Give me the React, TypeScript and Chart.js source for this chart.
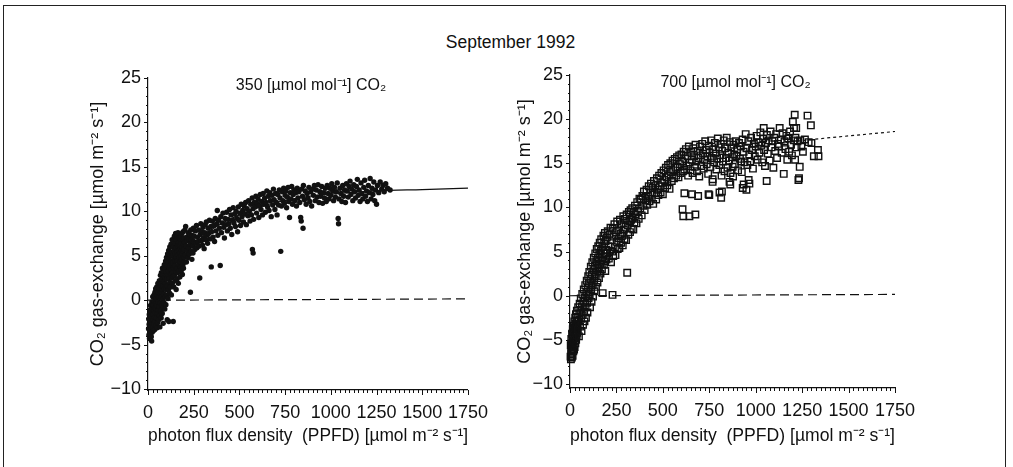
import React, { useEffect, useRef } from "react";
import { Chart, registerables } from "chart.js";

Chart.register(...registerables);

// ---------- data ----------
const xTicks = [0, 250, 500, 750, 1000, 1250, 1500, 1750];
const yTicks = [-10, -5, 0, 5, 10, 15, 20, 25];

const mainTitle = "September 1992";
const panelTitles = ["350 [\u00b5mol mol\u207b\u00b9] CO\u2082", "700 [\u00b5mol mol\u207b\u00b9] CO\u2082"];
const yAxisTitle = "CO\u2082 gas-exchange [\u00b5mol m\u207b\u00b2 s\u207b\u00b9]";
const xAxisTitle = "photon flux density  (PPFD) [\u00b5mol m\u207b\u00b2 s\u207b\u00b9]";

// observations at 350 µmol mol-1 CO2: [PPFD, gas exchange]
const obs350: [number, number][] = [
  [3,-3.2],[4,-2.1],[5,-3.9],[6,-2.7],[7,-1.6],[8,-4.3],[9,-3.4],[10,-2.3],[11,-1.1],[12,-3.8],[13,-2.9],[14,-0.6],
  [15,-1.8],[16,-3.3],[17,-2.5],[18,-4.1],[19,-1.3],[20,-4.6],[20,-3],[21,-0.2],[22,-2],[23,-3.6],[24,-1],[25,-2.6],
  [26,0.4],[27,-1.6],[28,-3.1],[29,-0.5],[30,-2.2],
  [31,-3.4],[32,-1.1],[33,0.6],[34,-2.7],[35,-0.1],[36,-1.9],[37,-3.3],[38,0.9],[39,-0.9],[40,-2.4],[41,-1.4],
  [42,1.3],[43,-0.4],[44,-2.9],[45,-1],[46,0.2],[47,-2],[48,1.5],[49,-0.6],[50,-3.1],[51,0.6],[52,-1.5],[53,-2.5],
  [54,1.9],[55,-0.2],[56,0.9],[57,-1.1],[58,-2.2],[59,0.4],[60,1.4],
  [61,-0.7],[62,2.2],[63,-1.7],[64,0.8],[65,-3],[66,1.7],[67,-0.3],[68,2.8],[69,-1.2],[70,0.3],[71,1.9],[72,-2],
  [73,3.1],[74,0.9],[75,-0.6],[76,2.4],[77,1.2],[78,-1.5],[79,3.6],[80,0.1],[81,1.6],[82,2.9],[83,-2.6],[84,-0.8],
  [85,3.3],[86,0.7],[87,2.1],[88,-0.3],[89,4],[90,1.3],[91,2.6],[92,-1],[93,3.5],[94,0.4],[95,1.9],[96,4.4],
  [97,2.9],[98,-0.5],[99,1.2],[100,3.2],
  [101,4.8],[102,0.6],[103,2.4],[104,3.9],[105,-2.2],[106,1.6],[107,5.2],[108,2.9],[109,0.2],[110,4.3],[111,3.3],
  [112,1.2],[113,5.6],[114,-2.4],[115,2.4],[116,4.7],[117,3.6],[118,0.8],[119,6],[120,2],[121,3.9],[122,5.1],
  [123,1.5],[124,2.9],[125,4.4],[126,6.3],[127,3.4],[128,0.6],[129,5.4],[130,2.5],[131,4],[132,6.8],[133,1.9],
  [134,3.1],[135,5],[136,4.2],[137,2.7],[138,-2.4],[139,6],[140,3.6],[141,1.5],[142,5.6],[143,4.6],[144,7.2],
  [145,2.8],[146,3.9],[147,6.4],[148,5.2],[149,2.2],[150,4.4],
  [151,7.5],[152,3.2],[153,5.9],[154,1.2],[155,4.9],[156,6.8],[157,3.6],[158,5.4],[159,2.4],[160,7.4],[161,4.4],
  [162,6.1],[163,3.1],[164,7.6],[165,5.1],[166,1.9],[167,6.5],[168,4],[169,5.6],[170,3.3],[171,7],[172,4.8],
  [173,6.1],[174,2.6],[175,5.3],[176,6.9],[177,4.3],[178,3.7],[179,5.8],[180,7.2],[181,4.9],[182,6.4],[183,3.4],
  [184,5.6],[185,7.5],[186,4.6],[187,6],[188,2.9],[189,5.2],[190,6.8],[191,4],[192,7.7],[193,5.5],[194,3.6],
  [195,6.3],[196,4.8],[197,7],[198,5.7],[199,4.3],[200,6.5],
  [202,7.9],[204,5.1],[206,8.3],[208,6.1],[210,4.3],[212,7.1],[214,5.6],[216,6.7],[218,4.8],[220,7.6],[222,5.9],
  [224,6.9],[226,5.2],[228,7.4],[230,6.3],[232,0.9],[234,7.9],[236,5.5],[238,6.8],[240,4.6],[242,7.3],[244,6.1],
  [246,5.3],[248,8.1],[250,6.6],[253,7.2],[256,5.7],[259,7.8],[262,6.4],[265,8.4],[268,5.9],[271,7.1],[274,6.6],
  [277,7.9],[280,6.1],[283,2.5],[286,7.4],[289,8.6],[292,6.7],[295,7.7],[298,6.2],[301,8.2],[304,7],[307,5.8],
  [310,7.6],
  [313,8.5],[316,6.8],[319,8.8],[322,7.3],[326,6.4],[329,8.1],[332,7.5],[336,9],[340,6.9],[344,8.3],[346,3.75],
  [348,7.7],[352,8.9],[356,7.1],[360,8.4],[364,6.6],[368,9.2],[372,7.8],[376,8.6],[379,10.1],[382,7.3],[386,9],
  [390,8.1],[395,3.9],[398,9.4],[402,7.6],[406,8.7],[410,9.8],[414,8.2],[418,7],[422,9.2],[426,8.5],[430,9.9],
  [434,7.8],[438,9.1],[442,8.6],[446,10.2],[450,8.1],[454,9.6],[458,7.4],[462,9],[466,10.4],[470,8.7],[474,9.7],
  [478,8.3],[482,10],[486,9.2],[490,7.7],[494,10.5],[498,9],
  [502,9.8],[506,8.4],[510,10.8],[514,9.4],[518,10.1],[522,8.8],[526,10.6],[530,9.7],[534,11],[538,8.5],[542,10.3],
  [546,9.5],[550,11.2],[554,10],[558,8.9],[562,10.8],[566,9.6],[571,5.7],[575,5.3],[570,11.5],[574,10.3],[578,9.1],
  [582,11],[586,10.5],[590,11.7],[594,9.8],[598,10.9],[602,11.4],[606,9.3],[610,10.6],[614,11.9],[618,10.2],
  [622,11.1],[626,9.6],[630,12],[634,10.8],[638,11.5],[642,9.9],[646,11],[650,12.3],[654,10.5],[658,11.7],
  [662,10.1],[666,12.1],[670,11.2],[674,9.4],[678,11.8],[682,10.7],[686,12.5],[690,11.3],[694,10.2],[698,12],
  [702,11],[706,9.6],[710,11.9],[714,10.7],[718,12.4],[722,11.5],[726,5.5],[730,10.6],[734,12.2],[738,11.2],
  [742,12.6],[746,10.9],[750,11.8],[754,12.3],[758,10.4],[762,11.6],[766,12.7],[770,11.1],[774,9.3],[778,12.1],
  [782,11.4],[786,12.8],[790,10.8],[794,11.9],[798,12.4],
  [803,11.2],[808,12.1],[812,10.6],[816,12.6],[820,11.5],[825,12.2],[830,11],[835,9.3],[838,8.9],[840,12.5],
  [845,11.7],[848,8.1],[850,12.9],[855,11.3],[860,12.3],[865,10.8],[870,12],[875,11.5],[880,12.7],[885,11.1],
  [890,12.2],[895,10.6],[900,12.5],[905,11.8],[910,12.9],[915,11.2],[920,12.4],[925,11.6],[930,13],[935,11],
  [940,12.2],[945,11.7],[950,12.8],[955,10.9],[960,12.1],[965,11.5],[970,12.6],[975,11.1],[980,12.9],[985,12],
  [990,11.4],[995,12.6],[1000,11.8],[1005,13.1],[1010,12.3],[1015,11.2],[1020,12.7],[1025,11.6],[1030,12.2],
  [1035,13.2],[1040,9.2],[1042,8.6],[1045,11.4],[1050,12.6],[1055,12],[1060,11.1],[1065,12.9],[1070,11.7],
  [1075,12.4],[1080,11],[1085,13.1],[1090,12.3],[1095,11.6],[1100,12.8],
  [1105,13.4],[1110,11.9],[1115,12.5],[1120,11.2],[1125,13],[1130,12.2],[1135,11.5],[1140,12.8],[1145,13.6],
  [1150,11.8],[1155,12.4],[1160,11.1],[1165,13.2],[1170,12],[1175,11.4],[1180,12.7],[1185,13.5],[1190,11.7],
  [1195,12.3],[1200,11.1],[1205,12.9],[1210,12.1],[1215,13.7],[1220,11.4],[1225,12.6],[1230,11.9],[1235,13.3],
  [1240,11.2],[1245,12.4],[1250,10.8],[1255,12.9],[1262,12.1],[1270,13.3],[1278,12.5],[1285,12.9],[1292,12.2],
  [1300,13.1],[1310,12.6],[1324,12.4]
];

// observations at 700 µmol mol-1 CO2: [PPFD, gas exchange]
const obs700: [number, number][] = [
  [3,-6.9],[4,-5.6],[5,-7.2],[6,-6.2],[7,-4.9],[8,-6.6],[9,-5.4],[10,-7],[11,-4.3],[12,-6],[13,-5.1],[14,-6.8],
  [15,-3.8],[16,-5.7],[17,-4.6],[18,-6.3],[19,-3.4],[20,-5.2],[21,-4.1],[22,-6.1],[23,-2.9],[24,-4.8],[25,-5.8],
  [26,-3.6],[27,-4.4],[28,-2.5],[29,-5.4],[30,-3.2],[31,-4.1],[32,-2.1],[33,-5],[34,-3.7],[35,-2.8],[36,-4.5],
  [37,-1.7],[38,-3.3],[39,-4.2],[40,-2.4],
  [42,-3.8],[44,-1.3],[46,-2.9],[48,-4.6],[50,-2],[52,-0.9],[54,-3.5],[56,-1.6],[58,-0.3],[60,-2.6],[62,-4],
  [64,-1.2],[66,0.2],[68,-2.2],[70,-3.3],[72,-0.7],[74,0.7],[76,-1.8],[78,-2.9],[80,-0.2],[82,1.2],[84,-1.3],
  [86,-2.5],[88,0.4],[90,1.7],[92,-0.8],[94,-1.9],[96,0.9],[98,2.2],[100,-0.3],
  [102,1.4],[104,2.7],[106,0.2],[108,-1.3],[110,1.9],[112,3.3],[114,0.7],[116,-0.7],[118,2.4],[120,3.8],[122,1.2],
  [124,-0.1],[126,2.9],[128,4.3],[130,1.7],[132,0.5],[134,3.4],[136,4.8],[138,2.2],[140,1],[142,3.9],[144,5.3],
  [146,2.7],[148,1.5],[150,4.3],[152,5.6],[154,3.1],[156,2],[158,4.7],[160,6],[162,3.6],[164,2.5],[166,5.1],
  [168,6.4],[170,4],[172,3],[174,5.5],[176,0.3],[178,4.4],[180,6.8],[182,3.5],[184,5.9],[186,4.8],[188,7.1],
  [189,3.9],[190,2.8],[192,6.2],[194,5.2],[196,4.1],[198,6.6],[200,4.8],
  [203,7.3],[206,5.6],[209,4.2],[212,6.9],[215,5.1],[218,7.7],[221,3.8],[224,6.3],[227,5],[229,0.1],[230,7.6],
  [233,4.5],[236,6.7],[239,8.1],[242,5.5],[245,4.6],[248,7.2],[251,6.1],[254,8.4],[257,5.3],[260,7.4],[263,6.5],
  [266,5.4],[269,8.6],[272,7],[275,6],[278,8.1],[281,6.8],[284,5.7],[287,9],[290,7.5],[293,6.4],[296,8.7],
  [299,7.8],[302,6.3],[305,9.2],[308,2.6],[311,8],[314,6.9],[317,9.5],[320,8.4],[323,7.2],[326,9.7],[329,8.6],
  [332,7.6],[335,9.9],[338,8.8],[341,7.5],[344,9.5],[347,8.3],[350,10.2],
  [354,9.2],[358,8.2],[362,10.6],[366,9.6],[370,8.7],[374,11],[378,9.9],[382,10.9],[386,9.1],[390,11.3],[394,10.2],
  [398,11.8],[402,9.7],[406,10.8],[409,11.2],[412,12],[416,10.3],[420,11.3],[424,12.4],[428,10.7],[432,11.7],
  [436,12.7],[440,11],[444,12.2],[448,10.4],[452,13],[456,11.6],[460,12.5],[464,10.9],[468,13.3],[472,12],
  [476,11.4],[480,13.6],[484,12.4],[488,11.7],[492,13.9],[496,12.8],[500,11.5],[504,14.2],[508,13.1],[512,12.2],
  [516,14.5],[520,13.4],[524,12.5],[528,14.8],[532,13.6],[536,12.1],[540,15],[544,14],[548,13],[552,15.3],
  [556,14.2],[560,13.3],[564,15.5],[568,14.5],[572,13.6],[576,15.7],[580,14.6],[584,13.4],[588,15.9],[592,14.9],
  [596,13.9],[600,16],
  [604,15.2],[608,14.1],[612,16.3],[616,14.3],[620,15.5],[624,16.6],[628,14.7],[632,15.8],[636,13.6],[640,16.9],
  [644,15.1],[648,14.2],[652,16.3],[656,15.4],[660,13.9],[664,16.7],[668,15.8],[672,14.6],[676,17.1],[680,15.2],
  [684,14.1],[688,16.4],[692,15.6],[696,13.5],[700,16.9],[704,15.9],[708,14.7],[712,17.2],[716,16.1],[720,14.4],
  [724,15.4],[728,17.5],[732,16.5],[736,14.9],[740,15.8],[744,13.8],[748,17],[752,16.2],[756,14.6],[760,17.6],
  [764,15.6],[768,13.2],[772,16.6],[776,15.1],[780,17.3],[784,16.1],[788,14.3],[792,15.5],[796,17.8],[800,16.8],
  [804,14.8],[808,15.9],[812,17.2],[816,13.6],[820,16.4],[824,15.2],[828,17.6],[832,14.1],[836,16.7],[840,15.6],
  [844,17.9],[848,14.5],[852,16.2],[856,15.3],[860,17.4],[864,13.9],[868,16.8],[872,15.7],[876,14.6],[880,17.1],
  [884,16],[888,14.9],[892,17.5],[896,15.8],[900,16.6],[905,14.2],[910,17.3],[915,15.5],[920,16.9],[922,15.2],
  [925,14],[930,17.7],[935,16.3],[940,15.1],[946,18.3],[950,16.7],[955,14.8],[960,17.5],[965,16],[970,15.2],
  [975,17.9],[980,16.5],[985,14.4],[990,17.2],[995,15.8],[1000,16.9],
  [616,11.6],[606,9.8],[610,9],[643,9],[657,11.5],[675,9.2],[690,11.3],[746,11.5],[750,11.4],[768,12.9],
  [805,11.7],[814,11.1],[818,11.8],[859,12.9],[863,12.6],[930,12.2],[935,12.6],[950,12],[962,13.1],[966,12.7],
  [878,13.5],
  [1005,18.1],[1010,15.4],[1015,17.4],[1020,16.2],[1025,18.5],[1030,17],[1035,15.1],[1040,17.8],[1043,19],
  [1045,16.5],[1050,14.7],[1055,17.3],[1059,13],[1060,18.2],[1065,16.1],[1070,17.6],[1075,15.3],[1080,18.6],
  [1085,16.8],[1090,17.5],[1095,14.5],[1100,17.9],[1105,16.4],[1110,18.3],[1115,15.6],[1120,17.2],[1125,16.9],
  [1129,19],[1135,17.7],[1140,16.2],[1145,18.4],[1151,13.8],[1155,17.5],[1160,16.6],[1165,18.1],[1170,15.4],
  [1175,17.8],[1180,16.3],[1185,18.6],[1190,17.1],[1195,15.9],[1200,19.7],[1205,17.6],[1206,19],[1210,20.5],
  [1212,15.4],[1214,17.9],[1218,19],[1220,16.8],[1225,17.5],[1230,13.1],[1233,13.3],[1237,14.6],[1240,17.6],
  [1246,16.9],[1254,16.3],[1265,17.7],[1279,20.4],[1285,17.4],[1297,19.3],[1300,17.3],[1313,15.8],[1335,16.5],
  [1338,15.8]
];

// fitted light-response curves
const fitX350 = [0, 50, 100, 150, 200, 300, 400, 500, 600, 700, 800, 900, 1000, 1100, 1250, 1500, 1750];
const fitY350 = [-3, -0.5, 1.5, 3.4, 5, 7.2, 8.6, 9.6, 10.4, 11, 11.4, 11.75, 11.95, 12.1, 12.3, 12.45, 12.6];
const fitX700 = [1000, 1100, 1220, 1400, 1600, 1750];
const fitY700 = [16.9, 17.2, 17.5, 17.9, 18.3, 18.6];
// compensation (zero) line
const zeroX = [0, 1750];
const zeroY = [0, 0.15];

const FONT = "'Liberation Sans', Arial, Helvetica, sans-serif";

type PanelProps = {
  left: number;
  width: number;
  areaLeft: number;
  areaRight: number;
  areaTop: number;
  areaBottom: number;
  yTitleX: number;
  yMin: number;
  title: string;
  filled: boolean;
  obs: [number, number][];
  fitX: number[];
  fitY: number[];
  fitDash: number[];
};

function Panel(p: PanelProps) {
  const ref = useRef<HTMLCanvasElement | null>(null);
  useEffect(() => {
    if (!ref.current) return;
    const H = 467;
    const minorPlugin = {
      id: "minorTicks",
      afterDraw(chart: any) {
        const ctx = chart.ctx;
        const xs = chart.scales.x;
        const ys = chart.scales.y;
        const area = chart.chartArea;
        ctx.save();
        ctx.strokeStyle = "#111";
        ctx.lineWidth = 1;
        for (let v = 0; v <= 1750; v += 25) {
          const px = Math.round(xs.getPixelForValue(v)) + 0.5;
          const len = v % 250 === 0 ? 5 : 3;
          ctx.beginPath();
          ctx.moveTo(px, area.bottom);
          ctx.lineTo(px, area.bottom + len);
          ctx.stroke();
        }
        for (let v = -10; v <= 25; v += 1) {
          const py = Math.round(ys.getPixelForValue(v)) + 0.5;
          const len = v % 5 === 0 ? 4 : 2;
          ctx.beginPath();
          ctx.moveTo(area.left, py);
          ctx.lineTo(area.left - len, py);
          ctx.stroke();
        }
        ctx.fillStyle = "#111";
        ctx.font = `16px ${FONT}`;
        ctx.textAlign = "center";
        ctx.textBaseline = "middle";
        ctx.fillText(p.title, (area.left + area.right) / 2 + 3, area.top + 8);
        ctx.restore();
      },
    };
    const toPts = (xs: number[], ys: number[]) => xs.map((x, i) => ({ x, y: ys[i] }));
    const chart = new Chart(ref.current, {
      type: "scatter",
      data: {
        datasets: [
          {
            data: p.obs.map(([x, y]) => ({ x, y })),
            pointStyle: p.filled ? "circle" : "rect",
            pointRadius: p.filled ? 2.7 : 4.6,
            pointBackgroundColor: p.filled ? "#111" : "rgba(0,0,0,0)",
            pointBorderColor: "#111",
            pointBorderWidth: p.filled ? 0 : 1.4,
            clip: false,
          } as any,
          {
            data: toPts(p.fitX, p.fitY),
            showLine: true,
            pointRadius: 0,
            borderColor: "#111",
            borderWidth: 1.2,
            borderDash: p.fitDash,
            cubicInterpolationMode: "monotone",
          } as any,
          {
            data: toPts(zeroX, zeroY),
            showLine: true,
            pointRadius: 0,
            borderColor: "#111",
            borderWidth: 1.2,
            borderDash: [9, 5],
          } as any,
        ],
      },
      options: {
        animation: false,
        responsive: false,
        devicePixelRatio: 1,
        layout: {
          padding: { left: 0, top: p.areaTop, right: p.width - p.areaRight, bottom: 0 },
        },
        plugins: { legend: { display: false }, tooltip: { enabled: false } },
        scales: {
          x: {
            type: "linear",
            min: 0,
            max: 1750,
            grid: { display: false, drawTicks: false },
            border: { display: true, color: "#111", width: 1.2 },
            afterBuildTicks: (s: any) => {
              s.ticks = xTicks.map((v) => ({ value: v }));
            },
            afterFit: (s: any) => {
              s.height = H - p.areaBottom;
            },
            ticks: {
              color: "#111",
              font: { family: FONT, size: 18 },
              padding: 12,
              maxRotation: 0,
              autoSkip: false,
              callback: (v: any) => String(v),
            },
            title: {
              display: true,
              text: xAxisTitle,
              color: "#111",
              font: { family: FONT, size: 18 },
              padding: { top: 0, bottom: 20 },
            },
          },
          y: {
            type: "linear",
            min: p.yMin,
            max: 25,
            grid: { display: false, drawTicks: false },
            border: { display: true, color: "#111", width: 1.2 },
            afterBuildTicks: (s: any) => {
              s.ticks = yTicks.map((v) => ({ value: v }));
            },
            afterFit: (s: any) => {
              s.width = p.areaLeft;
            },
            ticks: {
              color: "#111",
              font: { family: FONT, size: 18 },
              padding: 7,
              autoSkip: false,
              callback: (v: any) => (v < 0 ? "\u2212" + Math.abs(v) : String(v)),
            },
            title: {
              display: true,
              text: yAxisTitle,
              color: "#111",
              font: { family: FONT, size: 18 },
              padding: { top: p.yTitleX - 11, bottom: 0 },
            },
          },
        },
      },
      plugins: [minorPlugin],
    } as any);
    return () => chart.destroy();
  }, []);
  return (
    <canvas
      ref={ref}
      width={p.width}
      height={467}
      style={{ position: "absolute", left: p.left, top: 0, width: p.width, height: 467, display: "block" }}
    />
  );
}

export default function App() {
  return (
    <div
      style={{
        position: "fixed",
        left: 0,
        top: 0,
        width: 1013,
        height: 467,
        background: "#fff",
        overflow: "hidden",
      }}
    >
      <div
        style={{
          position: "absolute",
          left: 3,
          top: 5,
          width: 1001,
          height: 480,
          borderLeft: "1.5px solid #222",
          borderTop: "1.5px solid #222",
          borderRight: "1.5px solid #222",
        }}
      />
      <div
        style={{
          position: "absolute",
          left: 0,
          width: 1013,
          top: 32,
          textAlign: "center",
          font: `17.5px ${FONT}`,
          color: "#111",
          lineHeight: "20px",
          paddingLeft: 4,
        }}
      >
        {mainTitle}
      </div>
      <Panel
        left={0}
        width={500}
        areaLeft={148}
        areaRight={469}
        areaTop={78}
        areaBottom={390}
        yTitleX={98}
        yMin={-10.1}
        title={panelTitles[0]}
        filled={true}
        obs={obs350}
        fitX={fitX350}
        fitY={fitY350}
        fitDash={[]}
      />
      <Panel
        left={500}
        width={500}
        areaLeft={70}
        areaRight={395}
        areaTop={75}
        areaBottom={388}
        yTitleX={25}
        yMin={-10.45}
        title={panelTitles[1]}
        filled={false}
        obs={obs700}
        fitX={fitX700}
        fitY={fitY700}
        fitDash={[3, 3]}
      />
    </div>
  );
}
